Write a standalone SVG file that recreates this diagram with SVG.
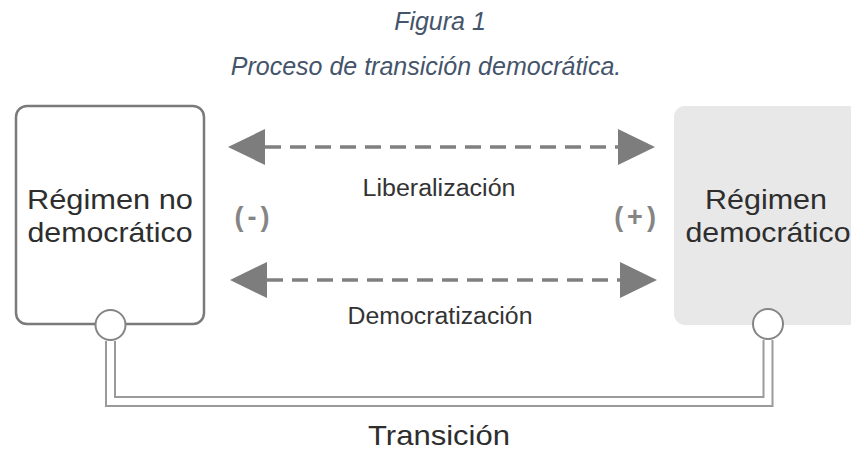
<svg xmlns="http://www.w3.org/2000/svg" width="851" height="455" viewBox="0 0 851 455">
  <style>
    .title { font-family: "Liberation Sans", Arial, sans-serif; font-style: italic; font-size: 25px; fill: #44546a; text-anchor: middle; }
    .node { font-family: "Liberation Sans", Arial, sans-serif; font-size: 28px; fill: #2e2e2e; text-anchor: middle; }
    .lbl { font-family: "Liberation Sans", Arial, sans-serif; font-size: 23px; fill: #333333; text-anchor: middle; }
    .sign { font-family: "Liberation Sans", Arial, sans-serif; font-size: 27px; font-weight: bold; fill: #858585; text-anchor: middle; letter-spacing: 4px; }
    .dash { stroke: #808080; stroke-width: 3.5; stroke-dasharray: 16 9; fill: none; }
    .port { fill: #ffffff; stroke: #858585; stroke-width: 2; }
  </style>
  <defs>
    <marker id="head" markerUnits="userSpaceOnUse" markerWidth="38" markerHeight="38" refX="0" refY="18" orient="auto-start-reverse" viewBox="0 0 38 38">
      <path d="M0,0 L37,18 L0,36 Z" fill="#7d7d7d"/>
    </marker>
  </defs>

  <text class="title" x="440" y="30">Figura 1</text>
  <text class="title" x="426" y="75">Proceso de transición democrática.</text>

  <g id="connectors">
    <line class="dash" x1="265" y1="147" x2="618" y2="147" marker-start="url(#head)" marker-end="url(#head)"/>
    <line class="dash" x1="267" y1="280" x2="620" y2="280" marker-start="url(#head)" marker-end="url(#head)"/>
    <path d="M110.5,341 V401.5 H768 V340" fill="none" stroke="#9a9a9a" stroke-width="11"/>
    <path d="M110.5,339 V401.5 H768 V338" fill="none" stroke="#ffffff" stroke-width="7"/>
    <text class="lbl" x="439" y="196" textLength="153" lengthAdjust="spacingAndGlyphs">Liberalización</text>
    <text class="lbl" x="440" y="324" textLength="185" lengthAdjust="spacingAndGlyphs">Democratización</text>
    <text class="node" x="439" y="445" textLength="142" lengthAdjust="spacingAndGlyphs">Transición</text>
  </g>

  <g id="signs">
    <text class="sign" x="254" y="226">(-)</text>
    <text class="sign" x="637" y="226">(+)</text>
  </g>

  <g id="node-no-democratico">
    <rect x="16" y="106" width="188" height="218" rx="11" ry="11" fill="#ffffff" stroke="#7a7a7a" stroke-width="2.5"/>
    <text class="node" x="110" y="209" textLength="166" lengthAdjust="spacingAndGlyphs">Régimen no</text>
    <text class="node" x="110" y="242" textLength="165" lengthAdjust="spacingAndGlyphs">democrático</text>
    <circle class="port" cx="110.5" cy="325" r="15"/>
  </g>

  <g id="node-democratico">
    <rect x="674" y="106" width="200" height="219" rx="11" ry="11" fill="#e8e8e8"/>
    <text class="node" x="766" y="209" textLength="122" lengthAdjust="spacingAndGlyphs">Régimen</text>
    <text class="node" x="768" y="242" textLength="165" lengthAdjust="spacingAndGlyphs">democrático</text>
    <circle class="port" cx="768" cy="324" r="15"/>
  </g>
</svg>
